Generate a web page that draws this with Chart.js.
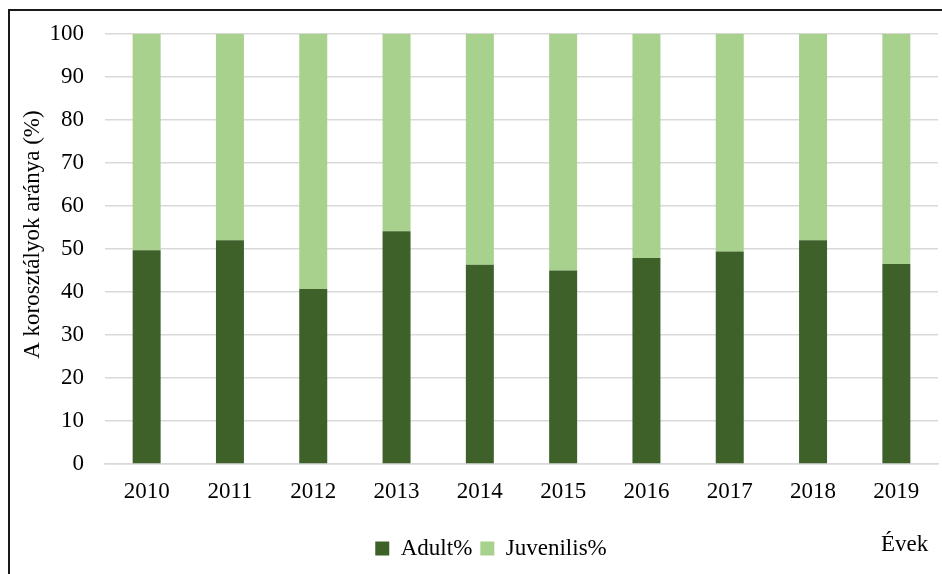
<!DOCTYPE html>
<html>
<head>
<meta charset="utf-8">
<script src="https://cdn.jsdelivr.net/npm/chart.js@4"></script>
<style>
  html, body { margin: 0; padding: 0; background: #fff; overflow: hidden; }
  #frame { position: absolute; left: 8px; top: 9px; width: 1000px; height: 600px;
           border-left: 2px solid #1a1a1a; border-top: 2px solid #1a1a1a; }
  #myChart { position: absolute; left: 10px; top: -1px; }
</style>
</head>
<body>
<div id="frame"></div>
<canvas id="myChart" width="962" height="575"></canvas>
<script>
const years = ['2010', '2011', '2012', '2013', '2014', '2015', '2016', '2017', '2018', '2019'];
const adult = [49.7, 52.0, 40.7, 54.1, 46.3, 45.0, 47.9, 49.4, 52.0, 46.5];
const juvenilis = [50.3, 48.0, 59.3, 45.9, 53.7, 55.0, 52.1, 50.6, 48.0, 53.5];

const serif = '"Liberation Serif", "Times New Roman", serif';

// "Évek" label at the bottom right, like the Excel original
const evekLabel = {
  id: 'evekLabel',
  afterDraw(chart) {
    const c = chart.ctx;
    c.save();
    c.font = '23px ' + serif;
    c.fillStyle = '#000';
    c.textAlign = 'left';
    c.textBaseline = 'middle';
    c.fillText('Évek', 871, 546);
    c.restore();
  }
};

const ctx = document.getElementById('myChart').getContext('2d');

const myChart = new Chart(ctx, {
  type: 'bar',
  data: {
    labels: years,
    datasets: [
      {
        label: 'Adult%',
        data: adult,
        backgroundColor: '#3d6129',
        barPercentage: 0.336,
        categoryPercentage: 1,
      },
      {
        label: 'Juvenilis%',
        data: juvenilis,
        backgroundColor: '#a9d18e',
        barPercentage: 0.336,
        categoryPercentage: 1,
      },
    ],
  },
  options: {
    responsive: false,
    animation: false,
    layout: { padding: { left: 34, right: 34, top: 0, bottom: 4 } },
    plugins: {
      tooltip: { enabled: false },
      legend: {
        position: 'bottom',
        labels: {
          color: '#000',
          font: { family: serif, size: 23 },
          boxWidth: 14,
          boxHeight: 14,
          padding: 8,
        },
      },
    },
    scales: {
      x: {
        stacked: true,
        grid: { display: false },
        border: { color: '#d9d9d9', width: 1.5 },
        ticks: { color: '#000', font: { family: serif, size: 23 }, padding: 6, maxRotation: 0 },
        afterFit(scale) { scale.height = 65; },
      },
      y: {
        stacked: true,
        min: 0,
        max: 100,
        ticks: { stepSize: 10, color: '#000', font: { family: serif, size: 23 }, padding: 21 },
        grid: { color: '#d9d9d9', lineWidth: 1.5, drawTicks: false },
        border: { display: false },
        title: {
          display: true,
          // leading spaces nudge the centred title a little upwards, as in the original
          text: '     A korosztályok aránya (%)',
          color: '#000',
          font: { family: serif, size: 23 },
          padding: { top: -25, bottom: 0 },
        },
        afterFit(scale) { scale.width = 61; },
      },
    },
  },
  plugins: [evekLabel],
});
</script>
</body>
</html>
